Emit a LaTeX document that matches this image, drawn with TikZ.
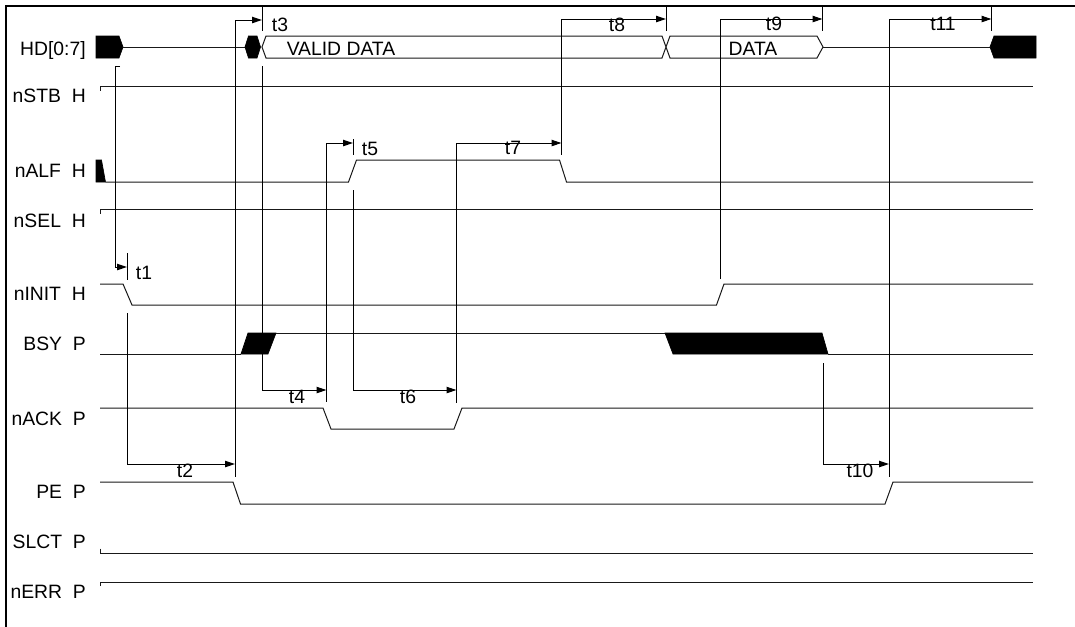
\documentclass[tikz,border=0pt]{standalone}
\usepackage{fontspec}
\setmainfont{Liberation Sans}
\usetikzlibrary{arrows.meta}

\begin{document}
\begin{tikzpicture}[x=0.75pt, y=-0.75pt,
    sig/.style={line width=0.75pt, color=black!90},
    tm/.style={line width=0.75pt},
    arr/.style={tm, -{Triangle[length=7.5pt,width=4.8pt]}},
    blk/.style={fill=black, draw=black, line width=0.5pt},
    nm/.style={anchor=base east, inner sep=0pt, font=\fontsize{14.5}{16}\selectfont},
    tl/.style={anchor=base, inner sep=0pt, font=\fontsize{14.5}{16}\selectfont}]
  \useasboundingbox (0,0) rectangle (1075,626);
  \draw[line width=1.5pt] (5.7,630) -- (5.7,5.7) -- (1080,5.7);

  % signal names
  \node[nm] (hd)   at (86,55)  {HD[0:7]};
  \node[nm] (stb)  at (86,102) {nSTB~~H};
  \node[nm] (alf)  at (86,177) {nALF~~H};
  \node[nm] (sel)  at (86,227) {nSEL~~H};
  \node[nm] (init) at (86,300) {nINIT~~H};
  \node[nm] (bsy)  at (86,350) {BSY~~P};
  \node[nm] (ack)  at (86,425) {nACK~~P};
  \node[nm] (pe)   at (86,498) {PE~~P};
  \node[nm] (slct) at (86,548) {SLCT~~P};
  \node[nm] (err)  at (86,598) {nERR~~P};

  % HD bus
  \draw[blk] (96,36) -- (119,36) -- (123,47) -- (119,58) -- (96,58) -- cycle;
  \draw[sig] (123,47) -- (245,47);
  \draw[blk] (245,47) -- (248.5,36) -- (257,36) -- (260.5,47) -- (257,58) -- (248.5,58) -- cycle;
  \draw[sig] (262,47) -- (266,36) -- (662,36) -- (670,58) -- (817,58) -- (823,47)
             -- (817,36) -- (670,36) -- (662,58) -- (266,58) -- cycle;
  \draw[sig] (823,47) -- (990,47);
  \draw[blk] (990,47) -- (994,36) -- (1036,36) -- (1036,58) -- (994,58) -- cycle;
  \node[tl] (vdata) at (341,55) {VALID DATA};
  \node[tl] (data)  at (753,55) {DATA};

  % control lines
  \draw[sig] (100,90.5) -- (100,86) -- (1033,86);
  \draw[blk] (96,160) -- (101.5,160) -- (105.5,182) -- (96,182) -- cycle;
  \draw[sig] (105.5,182) -- (348.5,182) -- (356.5,160) -- (559.5,160) -- (566.5,182) -- (1033,182);
  \draw[sig] (100,213.5) -- (100,209) -- (1033,209);
  \draw[sig] (100,284) -- (123,284) -- (132,305) -- (716.5,305) -- (724,284) -- (1033,284);
  \draw[sig] (100,354) -- (241,354);
  \draw[blk] (241,354) -- (248,333) -- (276,333) -- (268,354) -- cycle;
  \draw[sig] (276,333) -- (665,333);
  \draw[blk] (665,333) -- (822,333) -- (828,354) -- (673,354) -- cycle;
  \draw[sig] (828,354) -- (1033,354);
  \draw[sig] (100,408) -- (323,408) -- (331,429) -- (454,429) -- (462,408) -- (1033,408);
  \draw[sig] (100,482) -- (233,482) -- (240.5,504) -- (885,504) -- (893,482) -- (1033,482);
  \draw[sig] (100,548.5) -- (100,553) -- (1033,553);
  \draw[sig] (100,586) -- (100,582) -- (1033,582);

  % timing
  \draw[arr] (120,66) -- (115,66) -- (115,267) -- (127,267);
  \draw[tm] (127,253) -- (127,280);
  \node[tl] (t1) at (144,279) {t1};
  \draw[arr] (127,313) -- (127,464) -- (235,464);
  \draw[tm] (235,20) -- (235,477);
  \node[tl] (t2) at (185,477) {t2};
  \draw[arr] (235,20) -- (262,20);
  \draw[tm] (262,5) -- (262,31);
  \node[tl] (t3) at (280,31) {t3};
  \draw[arr] (262,66) -- (262,390) -- (326.5,390);
  \draw[tm] (326.5,143) -- (326.5,402);
  \node[tl] (t4) at (297,403) {t4};
  \draw[arr] (326.5,143) -- (353,143);
  \draw[tm] (353,139) -- (353,155);
  \node[tl] (t5) at (370,155) {t5};
  \draw[arr] (353,190) -- (353,390) -- (456.5,390);
  \draw[tm] (456.5,143) -- (456.5,403);
  \node[tl] (t6) at (408,403) {t6};
  \draw[arr] (456.5,143) -- (561.5,143);
  \draw[tm] (561.5,19) -- (561.5,155);
  \node[tl] (t7) at (513,154) {t7};
  \draw[arr] (561.5,19) -- (666,19);
  \draw[tm] (666,5) -- (666,31);
  \node[tl] (t8) at (617,31) {t8};
  \draw[arr] (720,279) -- (720,19) -- (822.5,19);
  \draw[tm] (822.5,5) -- (822.5,31);
  \node[tl] (t9) at (774,30) {t9};
  \draw[arr] (823.5,363) -- (823.5,464) -- (889,464);
  \draw[tm] (889,19) -- (889,477);
  \node[tl] (t10) at (860,477) {t10};
  \draw[arr] (889,19) -- (991.5,19);
  \draw[tm] (991.5,5) -- (991.5,31);
  \node[tl] (t11) at (943,30) {t11};
\end{tikzpicture}
\end{document}
